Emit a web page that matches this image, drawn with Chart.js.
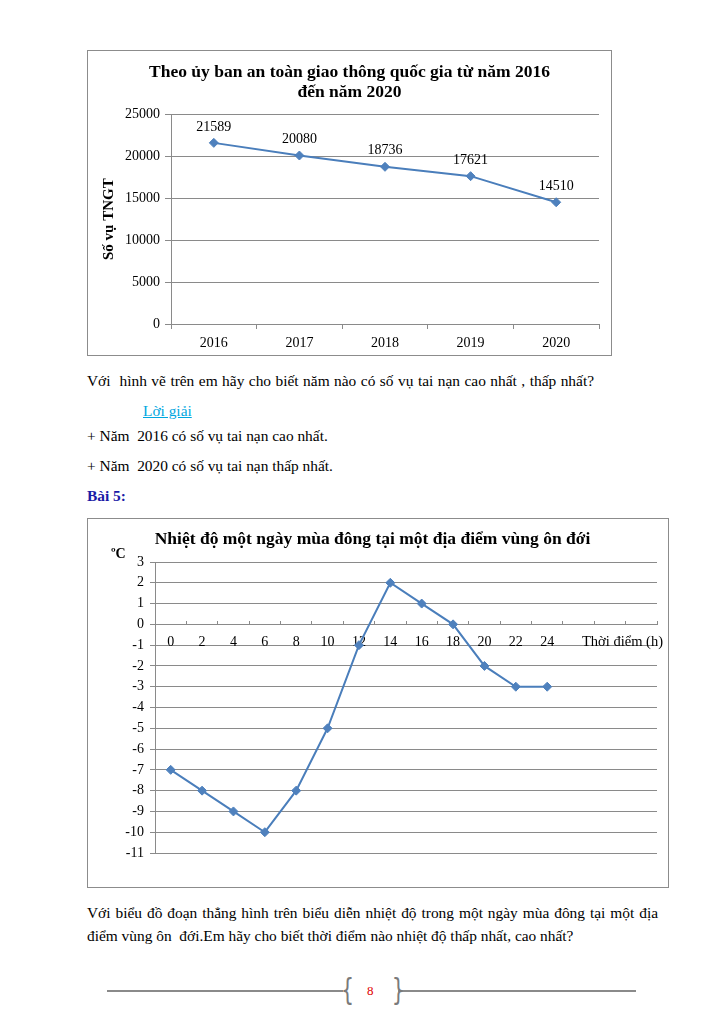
<!DOCTYPE html>
<html>
<head>
<meta charset="utf-8">
<script src="https://cdn.jsdelivr.net/npm/chart.js@4/dist/chart.umd.min.js"></script>
<style>
  html, body { margin: 0; padding: 0; background: #fff; }
  body { width: 725px; height: 1024px; position: relative; overflow: hidden; font-family: "Liberation Serif", "Times New Roman", serif; color: #000; }
  .box { position: absolute; box-sizing: border-box; border: 1px solid #8c8c8c; background: #fff; }
  .box canvas { display: block; }
  .t { position: absolute; font-size: 15.4px; white-space: pre; line-height: 18px; }
  .j { white-space: nowrap; text-align: justify; text-align-last: justify; }
  .link { color: #00a6e0; text-decoration: underline; }
  .bai { color: #1a1aa6; font-weight: bold; }
  .hl { position: absolute; height: 2px; background: #8a8a8a; top: 990px; }
  .br { position: absolute; top: 972px; font-size: 30px; color: #7a7a7a; font-family: "DejaVu Sans", sans-serif; font-weight: normal; transform: scaleX(0.7); }
  .pg { position: absolute; left: 367px; top: 983px; font-size: 13px; color: #e00000; }
</style>
</head>
<body>
<div class="box" style="left:87px; top:50px; width:525px; height:306px;"><canvas id="c1" width="523" height="304"></canvas></div>
<div class="t j" style="left:87px; top:372px; width:507px;">Với&nbsp; hình vẽ trên em hãy cho biết năm nào có số vụ tai nạn cao nhất , thấp nhất?</div>
<div class="t link" style="left:143px; top:402px;">Lời giải</div>
<div class="t" style="left:87px; top:427px;">+ Năm  2016 có số vụ tai nạn cao nhất.</div>
<div class="t" style="left:87px; top:457px;">+ Năm  2020 có số vụ tai nạn thấp nhất.</div>
<div class="t bai" style="left:87px; top:487px;">Bài 5:</div>
<div class="box" style="left:87px; top:518px; width:582px; height:370px;"><canvas id="c2" width="580" height="368"></canvas></div>
<div class="t j" style="left:87px; top:904px; width:571px;">Với biểu đồ đoạn thẳng hình trên biểu diễn nhiệt độ trong một ngày mùa đông tại một địa</div>
<div class="t" style="left:87px; top:927px;">điểm vùng ôn  đới.Em hãy cho biết thời điểm nào nhiệt độ thấp nhất, cao nhất?</div>
<div class="hl" style="left:107px; width:236px;"></div>
<div class="hl" style="left:398px; width:238px;"></div>
<div class="br" style="left:338px;">{</div>
<div class="br" style="left:389px;">}</div>
<div class="pg">8</div>
<script>
// ---------- Data: chart 1 ----------
const years = ['2016', '2017', '2018', '2019', '2020'];
const accidents = [21589, 20080, 18736, 17621, 14510];
const chart1Title = ['Theo ủy ban an toàn giao thông quốc gia từ năm 2016', 'đến năm 2020'];
const chart1YTitle = 'Số vụ TNGT';

// ---------- Data: chart 2 ----------
const hours = ['0', '2', '4', '6', '8', '10', '12', '14', '16', '18', '20', '22', '24', '', '', ''];
const temps = [-7, -8, -9, -10, -8, -5, -1, 2, 1, 0, -2, -3, -3];
const chart2Title = 'Nhiệt độ một ngày mùa đông tại một địa điểm vùng ôn đới';
const chart2Unit = 'ºC';
const chart2XTitle = 'Thời điểm (h)';

const SERIF = '"Liberation Serif", "Times New Roman", serif';
const LINE = '#4a7ebb';
const MARK = '#4f81bd';
const GRID = '#8a8a8a';

const valueLabels = {
  id: 'valueLabels',
  afterDatasetsDraw(chart, args, opts) {
    if (!opts || !opts.enabled) return;
    const ctx = chart.ctx;
    const meta = chart.getDatasetMeta(0);
    ctx.save();
    ctx.font = '14px ' + SERIF;
    ctx.fillStyle = '#000';
    ctx.textAlign = 'center';
    ctx.textBaseline = 'middle';
    meta.data.forEach((pt, i) => {
      ctx.fillText(String(chart.data.datasets[0].data[i]), pt.x, pt.y - 16);
    });
    ctx.restore();
  }
};

const extraText = {
  id: 'extraText',
  afterDraw(chart, args, opts) {
    if (!opts || !opts.enabled) return;
    const ctx = chart.ctx;
    const a = chart.chartArea;
    ctx.save();
    ctx.fillStyle = '#000';
    ctx.textBaseline = 'middle';
    ctx.font = 'bold 14px ' + SERIF;
    ctx.textAlign = 'left';
    ctx.fillText(opts.unit, a.left - 44, a.top - 8);
    ctx.font = '14.5px ' + SERIF;
    const y0 = chart.scales.y.getPixelForValue(0);
    ctx.fillText(opts.xTitle, a.right - 75, y0 + 18);
    ctx.restore();
  }
};

new Chart(document.getElementById('c1'), {
  type: 'line',
  data: {
    labels: years,
    datasets: [{
      data: accidents,
      borderColor: LINE,
      backgroundColor: MARK,
      borderWidth: 2,
      pointStyle: 'rectRot',
      pointRadius: 4.5,
      pointBorderWidth: 1,
      pointBorderColor: MARK,
      tension: 0
    }]
  },
  options: {
    responsive: false,
    animation: false,
    layout: { padding: { left: 12, right: 12, top: 0, bottom: 0 } },
    plugins: {
      legend: { display: false },
      tooltip: { enabled: false },
      title: {
        display: true,
        text: chart1Title,
        color: '#000',
        font: { family: SERIF, size: 17.5, weight: 'bold', lineHeight: 1.15 },
        padding: { top: 11, bottom: 12 }
      },
      valueLabels: { enabled: true }
    },
    scales: {
      x: {
        offset: true,
        grid: { display: true, drawOnChartArea: false, drawTicks: true, tickLength: 5, offset: true, color: GRID },
        border: { display: true, color: GRID },
        ticks: { color: '#000', font: { family: SERIF, size: 14 }, padding: 6, maxRotation: 0 },
        afterFit(s) { s.height = 31; }
      },
      y: {
        min: 0, max: 25000,
        ticks: { stepSize: 5000, color: '#000', font: { family: SERIF, size: 14 }, padding: 5, callback: (v) => String(v) },
        grid: { color: GRID, tickLength: 6 },
        border: { display: true, color: GRID },
        title: { display: true, text: chart1YTitle, color: '#000', font: { family: SERIF, size: 15, weight: 'bold' }, padding: 0 },
        afterFit(s) { s.width = 71; }
      }
    }
  },
  plugins: [valueLabels]
});

new Chart(document.getElementById('c2'), {
  type: 'line',
  data: {
    labels: hours,
    datasets: [{
      data: temps,
      borderColor: LINE,
      backgroundColor: MARK,
      borderWidth: 2,
      pointStyle: 'rectRot',
      pointRadius: 4.5,
      pointBorderWidth: 1,
      pointBorderColor: MARK,
      tension: 0
    }]
  },
  options: {
    responsive: false,
    animation: false,
    layout: { padding: { left: 0, right: 11, top: 0, bottom: 34 } },
    plugins: {
      legend: { display: false },
      tooltip: { enabled: false },
      title: {
        display: true,
        text: chart2Title,
        color: '#000',
        font: { family: SERIF, size: 17.5, weight: 'bold', lineHeight: 1.2 },
        padding: { top: 10, bottom: 12 }
      },
      extraText: { enabled: true, unit: chart2Unit, xTitle: chart2XTitle }
    },
    scales: {
      x: {
        position: { y: 0 },
        offset: true,
        grid: { display: true, drawOnChartArea: false, drawTicks: true, tickLength: -4, offset: true, color: GRID },
        border: { display: true, color: GRID },
        ticks: { color: '#000', font: { family: SERIF, size: 14 }, padding: 14, maxRotation: 0, autoSkip: false }
      },
      y: {
        min: -11, max: 3,
        ticks: { stepSize: 1, color: '#000', font: { family: SERIF, size: 14 }, padding: 6 },
        grid: { color: GRID, tickLength: 5 },
        border: { display: true, color: GRID },
        afterFit(s) { s.width = 67; }
      }
    }
  },
  plugins: [extraText]
});
</script>
</body>
</html>
